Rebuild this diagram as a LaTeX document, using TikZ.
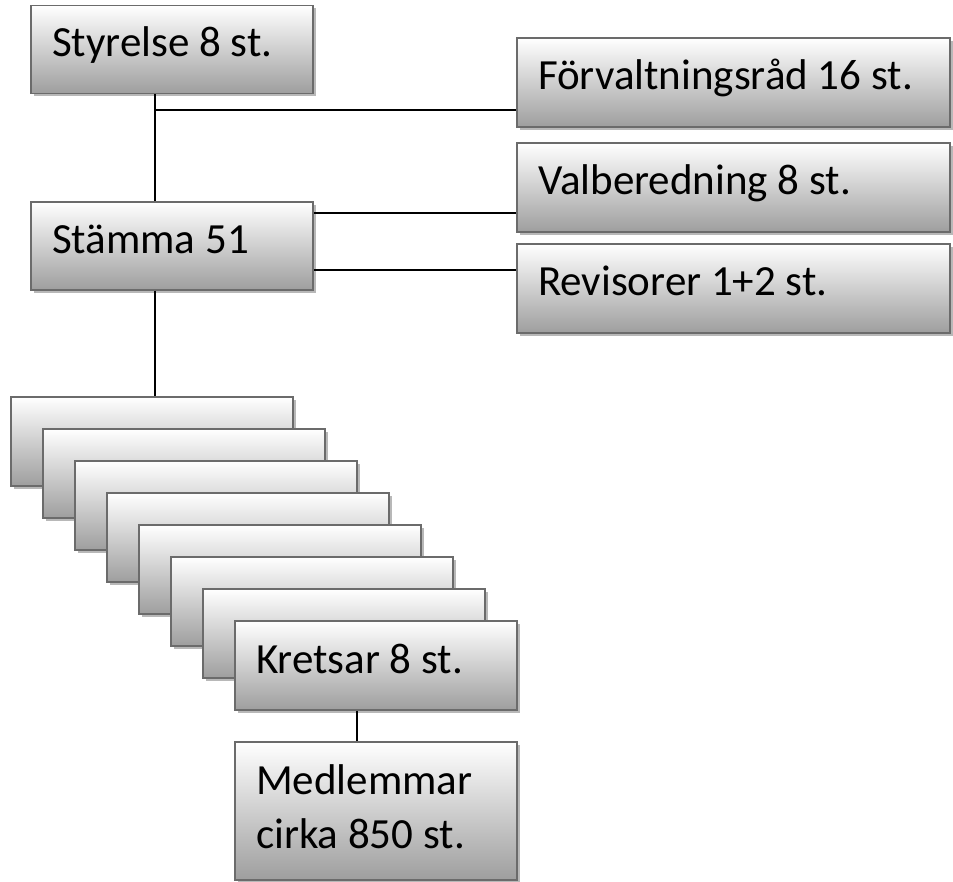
\documentclass[tikz,border=0pt]{standalone}
\usepackage{fontspec}
\setmainfont{Carlito}
\usetikzlibrary{shadows}

\begin{document}
\begin{tikzpicture}[x=1pt, y=-1pt,
		orgbox/.style={draw=black!58, line width=1.5pt, top color=white, bottom color=black!38,
			general shadow={fill=black!28, shadow xshift=3pt, shadow yshift=-3pt},
			inner xsep=21pt, inner ysep=0pt, align=left, text width=240pt, minimum height=88pt,
			font=\fontsize{43}{54}\selectfont, text height=25pt, text depth=10pt,
			execute at begin node={\spaceskip=0pt\xspaceskip=0pt}},
		widebox/.style={orgbox, text width=391pt, minimum height=89pt},
		link/.style={line width=1.3pt}]
		\useasboundingbox (0,0) rectangle (953,882);
		
		%top boxes
		\node[orgbox] (styrelse) at (172,49.5) {Styrelse 8 st.};
		\node[orgbox] (stamma) at (172,246) {Stämma 51};
		\node[widebox] (forv) at (733.5,82.5) {Förvaltningsråd 16 st.};
		\node[widebox] (valb) at (733.5,187.5) {Valberedning 8 st.};
		\node[widebox] (revis) at (733.5,288.5) {Revisorer 1+2 st.};
		
		%stack of kretsar
		\foreach \i in {0,...,6}{
			\node[orgbox, minimum height=89pt] (krets\i) at (152+32*\i, 441.5+32*\i) {};
		}
		\node[orgbox, minimum height=89pt] (kretsar) at (376,665.5) {Kretsar 8 st.};
		\node[orgbox, minimum height=138pt, text height=30pt, text depth=64pt] (medl) at (376,811) {Medlemmar\\cirka 850 st.};
		
		%lines
		\coordinate (trunk) at (155,110);
		\draw[link] (styrelse.south -| trunk) -- (stamma.north -| trunk);
		\draw[link] (trunk) -- (trunk -| forv.west);
		\draw[link] ([yshift=33pt]stamma.east) coordinate (s1) -- (s1 -| valb.west);
		\draw[link] ([yshift=-24pt]stamma.east) coordinate (s2) -- (s2 -| revis.west);
		\draw[link] (stamma.south -| trunk) -- (krets0.north -| trunk);
		\draw[link] ([xshift=-19pt]kretsar.south) -- ([xshift=-19pt]medl.north);
\end{tikzpicture}
\end{document}
